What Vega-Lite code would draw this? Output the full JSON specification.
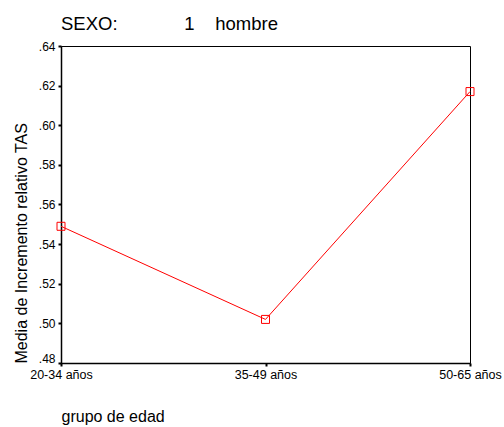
{
  "$schema": "https://vega.github.io/schema/vega-lite/v6.json",
  "autosize": "none",
  "width": 409,
  "height": 317,
  "padding": {"left": 61, "top": 46, "right": 34, "bottom": 64},
  "background": "white",
  "config": {
    "font": "Liberation Sans",
    "view": {"stroke": "#000000", "strokeWidth": 1}
  },
  "title": {
    "text": "SEXO:\u00a0\u00a0\u00a0\u00a0\u00a0\u00a0\u00a0\u00a0\u00a0\u00a0\u00a0\u00a0\u00a01\u00a0\u00a0\u00a0\u00a0hombre",
    "anchor": "start",
    "frame": "group",
    "fontSize": 18.5,
    "fontWeight": "normal",
    "font": "Liberation Sans",
    "color": "#000000",
    "baseline": "alphabetic",
    "offset": -8
  },
  "data": {
    "values": [
      {"grupo": "20-34 años", "media": 0.549},
      {"grupo": "35-49 años", "media": 0.502},
      {"grupo": "50-65 años", "media": 0.617}
    ]
  },
  "encoding": {
    "x": {
      "field": "grupo",
      "type": "ordinal",
      "sort": null,
      "scale": {"type": "point", "padding": 0},
      "axis": {
        "title": "grupo de edad",
        "titleFontSize": 16,
        "titleFontWeight": "normal",
        "titleFont": "Liberation Sans",
        "titleColor": "#000000",
        "titleAnchor": "start",
        "titleAlign": "left",
        "titleBaseline": "alphabetic",
        "titleX": 0,
        "titleY": 58,
        "labelAngle": 0,
        "labelFontSize": 12.5,
        "labelColor": "#000000",
        "labelPadding": 2,
        "domainColor": "#000000",
        "domainWidth": 1.5,
        "tickColor": "#000000",
        "tickSize": 3,
        "tickWidth": 2,
        "grid": false
      }
    },
    "y": {
      "field": "media",
      "type": "quantitative",
      "scale": {"domain": [0.48, 0.64], "nice": false, "zero": false},
      "axis": {
        "title": "Media de Incremento relativo TAS",
        "titleFontSize": 16,
        "titleFontWeight": "normal",
        "titleFont": "Liberation Sans",
        "titleColor": "#000000",
        "titleAngle": -90,
        "titleAlign": "left",
        "titleBaseline": "alphabetic",
        "titleX": -35,
        "titleY": 317,
        "values": [0.48, 0.5, 0.52, 0.54, 0.56, 0.58, 0.6, 0.62, 0.64],
        "labelExpr": "replace(format(datum.value, '.2f'), '0.', '.')",
        "labelFontSize": 12,
        "labelColor": "#000000",
        "labelPadding": 3,
        "labelOffset": {"condition": {"test": "datum.value < 0.49", "value": -5}, "value": 0},
        "domainColor": "#000000",
        "domainWidth": 1.5,
        "tickColor": "#000000",
        "tickSize": 3,
        "tickWidth": 2,
        "grid": false
      }
    }
  },
  "layer": [
    {
      "mark": {"type": "line", "color": "#ff0000", "strokeWidth": 1}
    },
    {
      "mark": {"type": "point", "shape": "square", "filled": false, "size": 64, "stroke": "#ff0000", "strokeWidth": 1, "opacity": 1}
    }
  ]
}
